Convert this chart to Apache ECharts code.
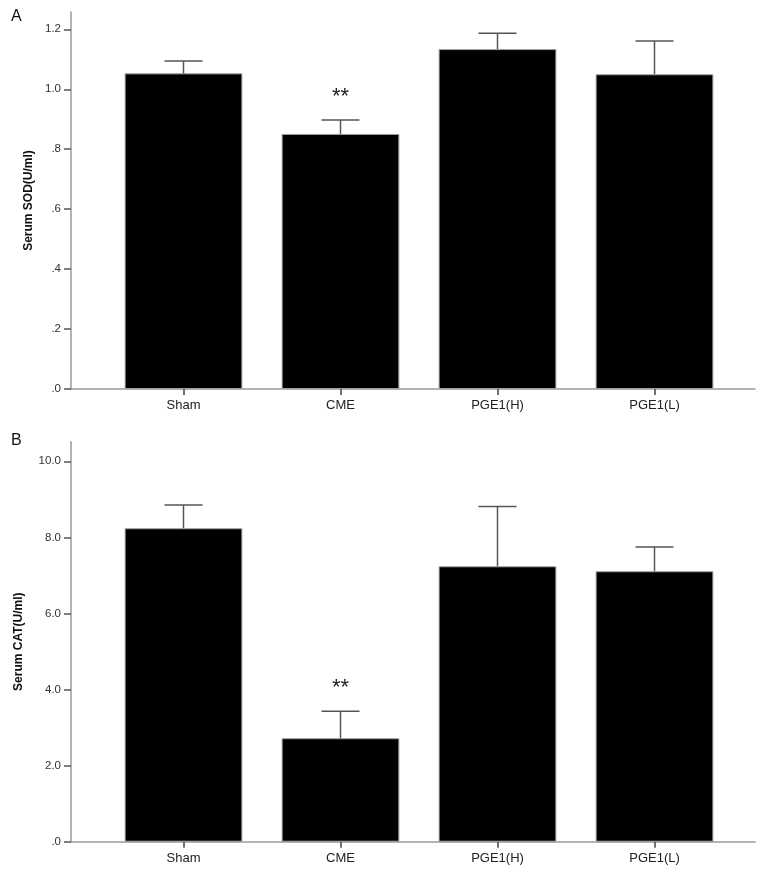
<!DOCTYPE html>
<html>
<head>
<meta charset="utf-8">
<script src="https://cdn.jsdelivr.net/npm/echarts@6/dist/echarts.min.js"></script>
<style>
  html, body { margin: 0; padding: 0; background: #fff; }
  #chart { width: 768px; height: 872px; }
</style>
</head>
<body>
<div id="chart"></div>
<script>
// groups on the x axis
const groups = ['Sham', 'CME', 'PGE1(H)', 'PGE1(L)']

// panel A: serum SOD (U/ml), mean and standard error
const sodMean = [1.053, 0.851, 1.134, 1.050]
const sodErr = [0.041, 0.046, 0.053, 0.111]
const sodSig = ['', '**', '', '']

// panel B: serum CAT (U/ml), mean and standard error
const catMean = [8.24, 2.72, 7.24, 7.11]
const catErr = [0.61, 0.71, 1.57, 0.64]
const catSig = ['', '**', '', '']

const FONT = '"Liberation Sans", Arial, sans-serif'
const AXIS_GRAY = '#9a9a9a'
const ERR_GRAY = '#555'

// ".2" style labels like SPSS prints them
const decimalLabel = (v) => v.toFixed(1).replace(/^0\./, '.')

const chart = echarts.init(document.getElementById('chart'), null, { renderer: 'canvas' })

// frame grid: carries the long axis lines that overshoot the data area, and the y title
const frameAxes = (gridIndex, name, nameGap) => ({
    x: {
        type: 'value', gridIndex, min: 0, max: 1,
        axisLine: { show: true, lineStyle: { color: AXIS_GRAY, width: 1.5 } },
        axisTick: { show: false }, axisLabel: { show: false }, splitLine: { show: false },
    },
    y: {
        type: 'value', gridIndex, min: 0, max: 1,
        name, nameLocation: 'middle', nameRotate: 90, nameGap,
        nameMoveOverlap: false,
        nameTextStyle: { fontFamily: FONT, fontSize: 12, fontWeight: 'bold', color: '#111' },
        axisLine: { show: true, lineStyle: { color: AXIS_GRAY, width: 1.5 } },
        axisTick: { show: false }, axisLabel: { show: false }, splitLine: { show: false },
    },
})

const dataX = (gridIndex) => ({
    type: 'category', gridIndex, data: groups,
    axisLine: { show: false },
    axisTick: { show: true, alignWithLabel: true, length: 6, lineStyle: { color: '#444', width: 1.5 } },
    axisLabel: { color: '#222', fontFamily: FONT, fontSize: 13, margin: 10 },
})

const dataY = (gridIndex, max, interval, fmt) => ({
    type: 'value', gridIndex, min: 0, max, interval,
    offset: 34,
    axisLine: { show: false },
    axisTick: { show: true, length: 7, lineStyle: { color: '#555', width: 1.5 } },
    axisLabel: { color: '#333', fontFamily: FONT, fontSize: 11.5, margin: 10, formatter: fmt },
    splitLine: { show: false },
})

const barSeries = (axisIndex, values) => ({
    type: 'bar',
    xAxisIndex: axisIndex, yAxisIndex: axisIndex,
    data: values,
    barWidth: '75%',
    itemStyle: { color: '#000', borderColor: '#a0a0a0', borderWidth: 1 },
    z: 2,
})

// error bar (upper half only, SPSS style) plus significance stars
const errSeries = (axisIndex, means, errs, sig) => ({
    type: 'custom',
    xAxisIndex: axisIndex, yAxisIndex: axisIndex,
    data: means.map((m, i) => [i, m, m + errs[i], sig[i]]),
    z: 3,
    renderItem: (params, api) => {
        const base = api.coord([api.value(0), api.value(1)])
        const top = api.coord([api.value(0), api.value(2)])
        const half = 19
        const style = { stroke: ERR_GRAY, lineWidth: 1.5 }
        const children = [
            { type: 'line', shape: { x1: base[0], y1: base[1], x2: top[0], y2: top[1] }, style },
            { type: 'line', shape: { x1: top[0] - half, y1: top[1], x2: top[0] + half, y2: top[1] }, style },
        ]
        const mark = sig[params.dataIndex]
        if (mark) {
            children.push({
                type: 'text',
                x: top[0], y: top[1] - 23,
                style: {
                    text: mark, fill: '#222', font: '22px ' + FONT,
                    align: 'center', verticalAlign: 'middle',
                },
            })
        }
        return { type: 'group', children }
    },
})

const fA = frameAxes(0, 'Serum SOD(U/ml)', 36)
const fB = frameAxes(2, 'Serum CAT(U/ml)', 46)

const gridBase = { outerBoundsMode: 'none', containLabel: false }

chart.setOption({
    backgroundColor: '#fff',
    animation: false,
    title: [
        { text: 'A', left: 6, top: 4, textStyle: { fontFamily: FONT, fontSize: 16, fontWeight: 'normal', color: '#111' } },
        { text: 'B', left: 6, top: 428, textStyle: { fontFamily: FONT, fontSize: 16, fontWeight: 'normal', color: '#111' } },
    ],
    grid: [
        { ...gridBase, left: 71, right: 13, top: 12, bottom: 483 },      // A frame
        { ...gridBase, left: 105, right: 35, top: 29.3, bottom: 483 },   // A data
        { ...gridBase, left: 71, right: 13, top: 441.7, bottom: 30.3 },  // B frame
        { ...gridBase, left: 105, right: 35, top: 461.3, bottom: 30.3 }, // B data
    ],
    xAxis: [
        fA.x,
        dataX(1),
        fB.x,
        dataX(3),
    ],
    yAxis: [
        fA.y,
        dataY(1, 1.2, 0.2, decimalLabel),
        fB.y,
        dataY(3, 10, 2, decimalLabel),
    ],
    series: [
        barSeries(1, sodMean),
        errSeries(1, sodMean, sodErr, sodSig),
        barSeries(3, catMean),
        errSeries(3, catMean, catErr, catSig),
    ],
})
</script>
</body>
</html>
